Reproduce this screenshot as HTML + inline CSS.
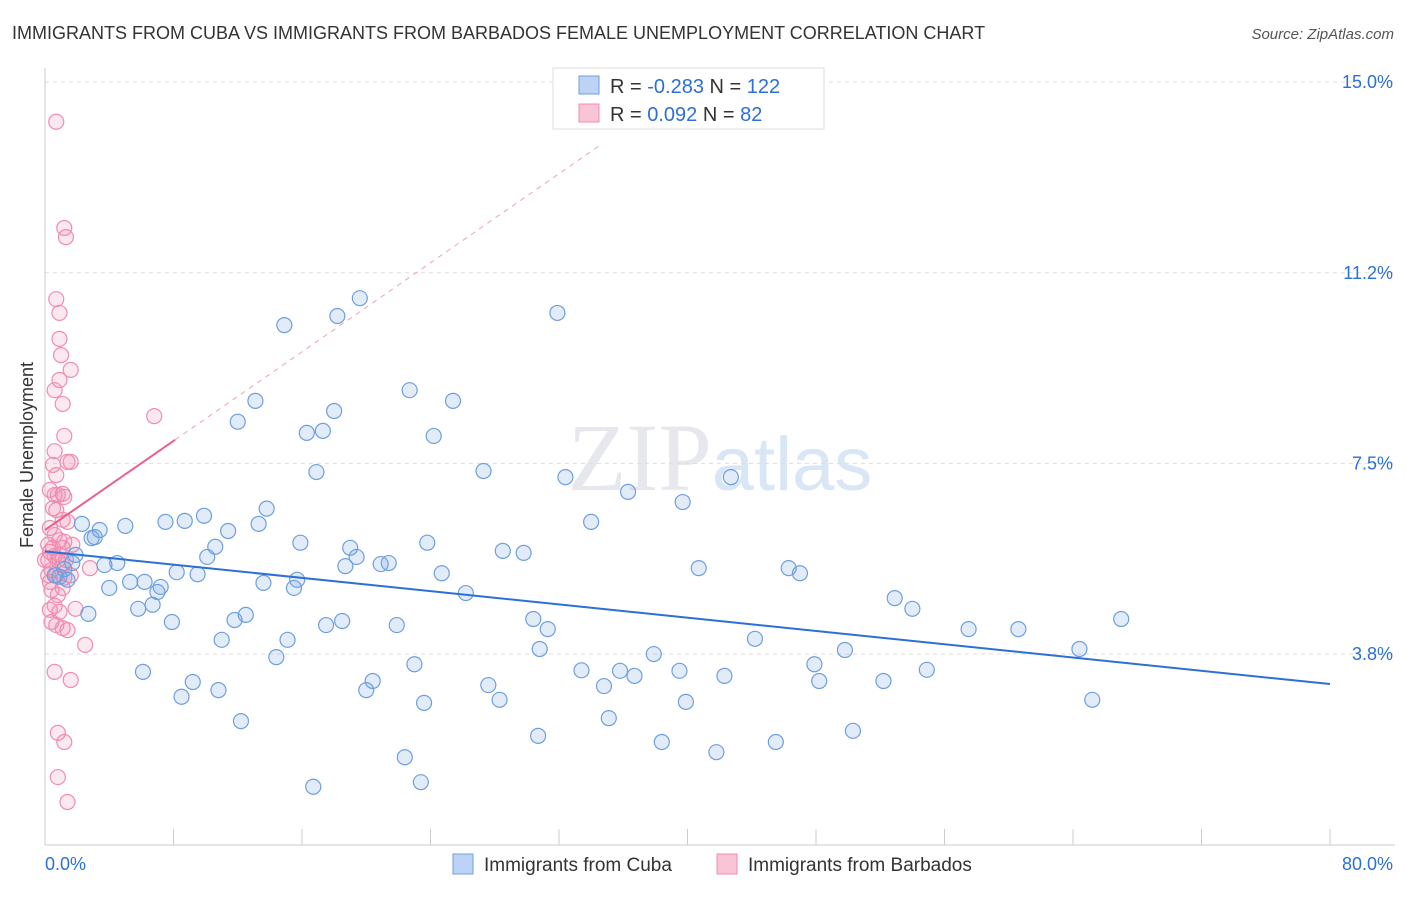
<!DOCTYPE html>
<html><head><meta charset="utf-8"><style>
body{margin:0;background:#fff;font-family:"Liberation Sans",sans-serif;}
</style></head><body>
<svg id="chart" width="1406" height="892" viewBox="0 0 1406 892" xmlns="http://www.w3.org/2000/svg" style="font-family:'Liberation Sans',sans-serif">
<text x="12" y="39" font-size="18" fill="#333">IMMIGRANTS FROM CUBA VS IMMIGRANTS FROM BARBADOS FEMALE UNEMPLOYMENT CORRELATION CHART</text>
<text x="1394" y="39" font-size="15" fill="#555" text-anchor="end" font-style="italic">Source: ZipAtlas.com</text>
<text x="720" y="490" font-size="96" fill="#e6e8ee" text-anchor="middle" font-family="Liberation Serif,serif">ZIP<tspan fill="#d9e6f5" font-family="Liberation Sans,sans-serif" font-size="76">atlas</tspan></text>
<text transform="translate(33,455) rotate(-90)" font-size="18" fill="#333" text-anchor="middle">Female Unemployment</text>
<g id="grid"></g><g id="pts"></g><g id="lines"></g>
<g>
<rect x="553" y="68" width="271" height="61" fill="#fff" stroke="#ddd"/>
<rect x="579" y="76" width="20" height="18" fill="#bcd3f5" stroke="#6d9fe0"/>
<rect x="579" y="104" width="20" height="18" fill="#f9c4d6" stroke="#f08cb0"/>
<text x="610" y="93" font-size="20" fill="#333">R = <tspan fill="#2c6fd6">-0.283</tspan>   N = <tspan fill="#2c6fd6">122</tspan></text>
<text x="610" y="121" font-size="20" fill="#333">R =  <tspan fill="#2c6fd6"> 0.092</tspan>   N =  <tspan fill="#2c6fd6"> 82</tspan></text>
</g>
<g>
<rect x="453" y="854" width="20" height="20" fill="#bcd3f5" stroke="#6d9fe0"/>
<text x="484" y="871" font-size="19" fill="#333">Immigrants from Cuba</text>
<rect x="717" y="854" width="20" height="20" fill="#f9c4d6" stroke="#f08cb0"/>
<text x="748" y="871" font-size="19" fill="#333">Immigrants from Barbados</text>
</g>
</svg>
<script>
const xTickLabels=["0.0%","80.0%"];
const yTickValues=[3.75,7.5,11.25,15];
const yTickLabels=["3.8%","7.5%","11.2%","15.0%"];
const cubaX=[2.3,3.1,3.4,3.7,4.5,5.0,4.0,2.7,5.3,5.8,6.2,6.7,7.0,7.2,6.1,7.5,7.9,8.2,8.7,8.5,9.2,9.5,9.9,10.1,10.6,10.8,11.0,11.4,11.8,12.0,12.2,12.5,13.1,13.3,13.6,13.8,14.4,14.9,15.1,15.5,15.7,15.9,16.3,16.7,16.9,17.3,17.5,18.0,18.2,18.5,18.7,19.0,19.4,19.6,20.0,20.4,20.9,21.4,21.9,22.4,22.7,23.0,23.4,23.6,23.8,24.2,24.7,25.4,26.2,27.3,27.6,28.3,28.5,29.8,30.4,30.7,30.8,31.3,31.9,32.4,33.4,34.0,34.8,35.1,35.8,36.3,36.7,37.9,38.4,39.5,39.7,39.9,40.7,41.8,42.3,42.7,44.2,45.5,46.3,47.0,47.9,48.2,49.8,50.3,52.2,52.9,54.0,54.9,57.5,60.6,64.4,65.2,67.0,0.9,1.2,1.7,1.9,1.4,0.6,2.9];
const cubaY=[6.31,6.05,6.19,5.50,5.54,6.27,5.05,4.54,5.17,4.64,5.17,4.72,4.97,5.07,3.40,6.35,4.38,5.36,6.37,2.91,3.20,5.32,6.47,5.66,5.86,3.04,4.03,6.17,4.42,8.32,2.43,4.52,8.73,6.31,5.15,6.61,3.69,10.22,4.03,5.05,5.21,5.94,8.10,1.14,7.33,8.14,4.32,8.53,10.40,4.40,5.48,5.84,5.66,10.75,3.04,3.22,5.52,5.54,4.32,1.72,8.94,3.55,1.23,2.79,5.94,8.04,5.34,8.73,4.95,7.35,3.14,2.85,5.78,5.74,4.44,2.14,3.85,4.24,10.46,7.23,3.43,6.35,3.12,2.49,3.42,6.94,3.32,3.75,2.02,3.42,6.74,2.81,5.44,1.82,3.32,7.23,4.05,2.02,5.44,5.34,3.55,3.22,3.83,2.24,3.22,4.85,4.64,3.44,4.24,4.24,3.85,2.85,4.44,5.27,5.42,5.54,5.70,5.21,5.30,6.03];
const barbX=[0.7,1.2,1.3,0.7,0.9,0.9,1.0,1.6,0.9,0.6,1.1,6.8,1.2,0.6,1.4,1.6,0.5,0.7,0.3,0.6,0.8,1.1,1.2,0.5,0.7,1.1,1.4,0.3,0.6,0.9,1.1,1.2,1.7,0.3,0.6,0.8,1.1,0.2,0.4,0.7,0.3,1.2,1.6,2.8,0.4,0.8,1.1,0.3,0.6,0.9,1.9,0.4,0.7,1.1,1.4,2.5,0.6,1.6,0.8,1.2,0.8,1.4,0.2,0.5,0.0,0.9,1.3,0.2];
const barbY=[14.22,12.13,11.95,10.73,10.46,9.95,9.63,9.34,9.14,8.94,8.67,8.43,8.04,7.74,7.53,7.53,7.47,7.27,6.98,6.88,6.88,6.90,6.84,6.62,6.58,6.39,6.35,6.23,6.09,5.99,5.84,5.96,5.90,5.76,5.68,5.60,5.50,5.60,5.40,5.30,5.17,5.25,5.30,5.44,5.01,4.91,5.05,4.62,4.70,4.58,4.64,4.38,4.32,4.26,4.22,3.93,3.40,3.24,2.20,2.02,1.33,0.84,5.90,5.84,5.60,5.70,5.60,5.30];
const cubaTrend=[5.77,3.16];
const barbTrend=[6.19,0.219];
const NS="http://www.w3.org/2000/svg";
const X0=45,X1=1330,Y0=844.7,PY=50.84;
const xs=v=>X0+(X1-X0)*v/80;
const ys=v=>Y0-v*PY;
function mk(t,a,p){const e=document.createElementNS(NS,t);for(const k in a)e.setAttribute(k,a[k]);p.appendChild(e);return e;}
const grid=document.getElementById('grid');
yTickValues.forEach((v,i)=>{
  const l=mk('line',{x1:X0,x2:1395,y1:ys(v),y2:ys(v),stroke:'#ddd','stroke-dasharray':'4,4'},grid);
  
  
  const t=mk('text',{x:1393,y:ys(v)+6,'font-size':18,fill:'#2c6fd6','text-anchor':'end'},grid);
  t.textContent=yTickLabels[i];
  
  
});
const ax=mk('line',{x1:X0,x2:X0,y1:68,y2:845,stroke:'#ccc'},grid);


const bx=mk('line',{x1:X0,x2:1395,y1:845,y2:845,stroke:'#ccc'},grid);


for(let i=0;i<=10;i++){const tk=mk('line',{x1:xs(i*8),x2:xs(i*8),y1:829,y2:845,stroke:'#ccc'},grid);

}
[[0,'start',45],[80,'end',1393]].forEach((d,i)=>{const t=mk('text',{x:d[2],y:870,'font-size':18,fill:'#2c6fd6','text-anchor':d[1]},grid);t.textContent=xTickLabels[i];

});
const pts=document.getElementById('pts');
barbX.forEach((x,i)=>{const c=mk('circle',{cx:xs(x),cy:ys(barbY[i]),r:7.5,fill:'rgba(240,140,176,0.2)',stroke:'#f08cb0','stroke-width':1.2},pts);

});
cubaX.forEach((x,i)=>{const c=mk('circle',{cx:xs(x),cy:ys(cubaY[i]),r:7.5,fill:'rgba(109,159,224,0.2)',stroke:'#6d9fe0','stroke-width':1.2},pts);

});
const lines=document.getElementById('lines');
const cl=mk('line',{x1:xs(0),y1:ys(cubaTrend[0]),x2:xs(80),y2:ys(cubaTrend[1]),stroke:'#2c6fd6','stroke-width':2},lines);


const bl=mk('line',{x1:xs(0),y1:ys(barbTrend[0]),x2:xs(8.1),y2:ys(barbTrend[0]+barbTrend[1]*8.1),stroke:'#e8608e','stroke-width':2},lines);


const bd=mk('line',{x1:xs(8.1),y1:ys(barbTrend[0]+barbTrend[1]*8.1),x2:xs(34.5),y2:ys(barbTrend[0]+barbTrend[1]*34.5),stroke:'#f0a0bc','stroke-width':1,'stroke-dasharray':'5,5'},lines);


</script>
</body></html>
